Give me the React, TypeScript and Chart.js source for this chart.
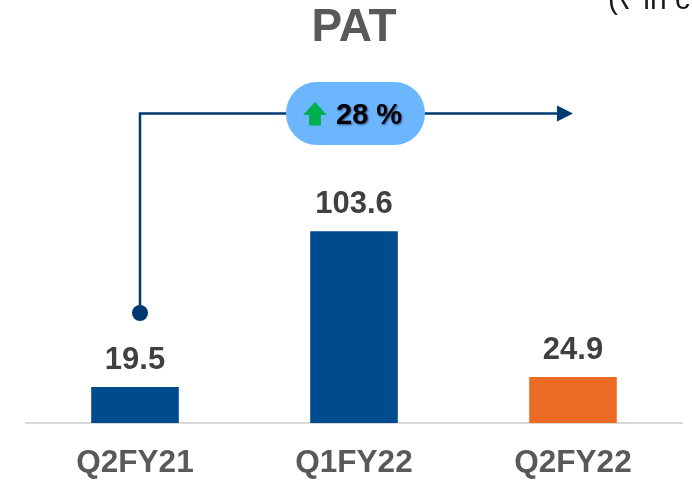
import React, { useEffect, useRef } from "react";
import { Chart, registerables } from "chart.js";

Chart.register(...registerables);

const categories = ["Q2FY21", "Q1FY22", "Q2FY22"];
const patValues = [19.5, 103.6, 24.9];
const barColors = ["#004B8D", "#004B8D", "#EC6B25"];
const valueLabels = ["19.5", "103.6", "24.9"];
const titleText = "PAT";
const growthText = "28 %";
const unitText = "(₹ in crore)";
const FONT = "'Liberation Sans', Arial, sans-serif";

const overlay = {
  id: "overlay",
  afterDatasetsDraw(chart: any) {
    const { ctx } = chart;
    const x0 = chart.scales.x.getPixelForValue(0);
    const meta = chart.getDatasetMeta(0);
    ctx.save();

    // value labels
    ctx.font = `bold 31px ${FONT}`;
    ctx.fillStyle = "#404040";
    ctx.textAlign = "center";
    ctx.textBaseline = "alphabetic";
    meta.data.forEach((bar: any, i: number) => {
      ctx.fillText(valueLabels[i], bar.x, bar.y - 18);
    });

    // connector
    const lineY = 113.5;
    const startX = x0 + 5;
    ctx.strokeStyle = "#003A70";
    ctx.fillStyle = "#003A70";
    ctx.lineWidth = 2.5;
    ctx.beginPath();
    ctx.moveTo(startX, 313);
    ctx.lineTo(startX, lineY);
    ctx.lineTo(560, lineY);
    ctx.stroke();
    ctx.beginPath();
    ctx.arc(startX, 313, 8, 0, Math.PI * 2);
    ctx.fill();
    ctx.beginPath();
    ctx.moveTo(557, 105.5);
    ctx.lineTo(573, 113.5);
    ctx.lineTo(557, 121.5);
    ctx.closePath();
    ctx.fill();

    // pill
    ctx.fillStyle = "#6CB6FF";
    ctx.beginPath();
    ctx.roundRect(286, 82, 139, 63, 31);
    ctx.fill();

    // green arrow
    ctx.fillStyle = "#00B050";
    ctx.beginPath();
    ctx.moveTo(315, 102);
    ctx.lineTo(327, 115);
    ctx.lineTo(321, 115);
    ctx.lineTo(321, 125.5);
    ctx.lineTo(309, 125.5);
    ctx.lineTo(309, 115);
    ctx.lineTo(303, 115);
    ctx.closePath();
    ctx.fill();

    // growth text
    ctx.font = `bold 29px ${FONT}`;
    ctx.textAlign = "left";
    ctx.fillStyle = "#000000";
    ctx.shadowColor = "rgba(0,0,40,0.55)";
    ctx.shadowBlur = 2;
    ctx.shadowOffsetX = 1;
    ctx.shadowOffsetY = 1;
    ctx.fillText(growthText, 336, 124);
    ctx.shadowColor = "transparent";

    // clipped unit text
    ctx.font = `30px ${FONT}`;
    ctx.fillStyle = "#1a1a1a";
    ctx.fillText(unitText, 608, 9);
    ctx.restore();
  },
};

export default function App() {
  const ref = useRef<HTMLCanvasElement>(null);
  useEffect(() => {
    const chart = new Chart(ref.current as HTMLCanvasElement, {
      type: "bar",
      data: {
        labels: categories,
        datasets: [
          {
            data: patValues,
            backgroundColor: barColors,
            barPercentage: 0.4,
            categoryPercentage: 1,
          },
        ],
      },
      options: {
        animation: false,
        responsive: false,
        layout: { padding: { left: 25.5, right: 9.5, top: 0, bottom: 0 } },
        plugins: {
          legend: { display: false },
          tooltip: { enabled: false },
          title: {
            display: true,
            text: titleText,
            color: "#595959",
            fullSize: false,
            padding: { top: 2, bottom: 0 },
            font: { family: FONT, size: 46, weight: "bold", lineHeight: 1.15 },
          },
        },
        scales: {
          x: {
            afterFit(axis: any) {
              axis.height = 58;
            },
            grid: { display: false, drawTicks: false },
            border: { display: true, color: "#D9D9D9", width: 2 },
            ticks: {
              color: "#595959",
              padding: 21,
              maxRotation: 0,
              font: { family: FONT, size: 31.5, weight: "bold" },
            },
          },
          y: { display: false, min: 0, max: 199 },
        },
      },
      plugins: [overlay],
    } as any);
    return () => chart.destroy();
  }, []);
  return (
    <div style={{ position: "absolute", left: 0, top: 0, width: 692, height: 481, background: "#fff" }}>
      <canvas ref={ref} width={692} height={481} style={{ display: "block" }} />
    </div>
  );
}
